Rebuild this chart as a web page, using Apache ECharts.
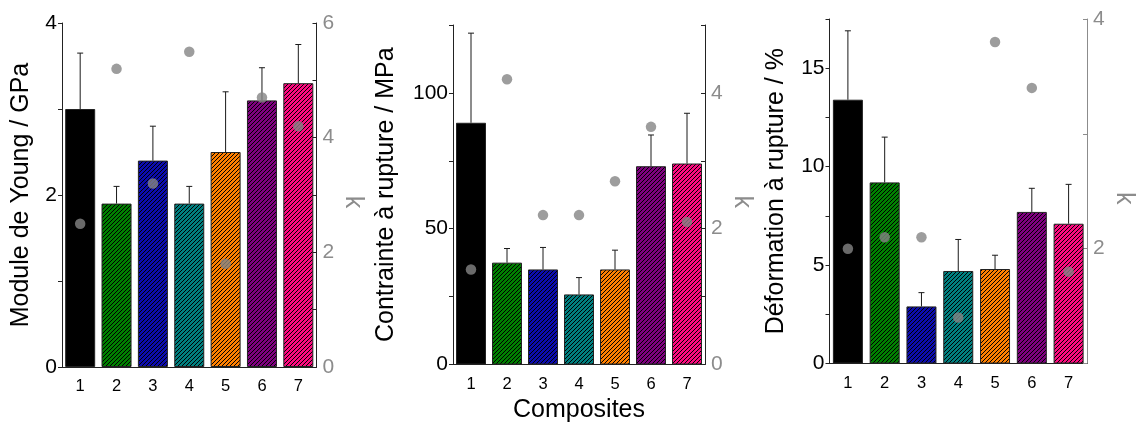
<!DOCTYPE html>
<html>
<head>
<meta charset="utf-8">
<script src="https://cdn.jsdelivr.net/npm/echarts@6/dist/echarts.min.js"></script>
<style>
html,body{margin:0;padding:0;background:#fff;}
#chart{width:1136px;height:424px;}
</style>
</head>
<body>
<div id="chart"></div>
<script>
// ---- data ----
const categories = ['1','2','3','4','5','6','7'];
const barColors = ['#000000','#008000','#0c0cb0','#008080','#ff8000','#800080','#ff0a80'];

const youngMean = [3.0, 1.9, 2.4, 1.9, 2.5, 3.1, 3.3];
const youngErr  = [0.65, 0.2, 0.4, 0.2, 0.7, 0.38, 0.45];
const youngK    = [2.5, 5.2, 3.2, 5.5, 1.8, 4.7, 4.2];

const stressMean = [89, 37.5, 35, 25.8, 35, 73, 74];
const stressErr  = [33, 5.2, 8.1, 6.2, 7.1, 11.5, 18.5];
const stressK    = [1.4, 4.2, 2.2, 2.2, 2.7, 3.5, 2.1];

const strainMean = [13.4, 9.2, 2.9, 4.7, 4.8, 7.7, 7.1];
const strainErr  = [3.5, 2.3, 0.7, 1.6, 0.7, 1.2, 2.0];
const strainK    = [2.0, 2.1, 2.1, 1.4, 3.8, 3.4, 1.8];

const youngTicks  = [0, 2, 4];
const youngKTicks = [0, 2, 4, 6];
const stressTicks = [0, 50, 100];
const stressKTicks = [0, 2, 4];
const strainTicks = [0, 5, 10, 15];
const strainKTicks = [2, 4];

// ---- styles ----
const FONT = 'Liberation Sans, Arial, sans-serif';

function hatch(color) {
  const s = 4;
  const c = document.createElement('canvas');
  c.width = s; c.height = s;
  const ctx = c.getContext('2d');
  ctx.fillStyle = color;
  ctx.fillRect(0, 0, s, s);
  ctx.strokeStyle = '#000';
  ctx.lineWidth = 1.0;
  ctx.beginPath();
  ctx.moveTo(-1, s + 1); ctx.lineTo(s + 1, -1);
  ctx.moveTo(-1, 1); ctx.lineTo(1, -1);
  ctx.moveTo(s - 1, s + 1); ctx.lineTo(s + 1, s - 1);
  ctx.stroke();
  return { image: c, repeat: 'repeat' };
}
const fills = barColors.map((c, i) => i === 0 ? c : hatch(c));

const grids = [
  { left: 62, top: 23, width: 254.5, height: 344, outerBoundsMode: 'none', containLabel: false },
  { left: 453, top: 25, width: 252, height: 339.5, outerBoundsMode: 'none', containLabel: false },
  { left: 829.5, top: 19, width: 257.5, height: 344.5, outerBoundsMode: 'none', containLabel: false }
];

function xAxes(gi, name) {
  return [
    {
      type: 'category', gridIndex: gi, data: categories,
      axisLine: { lineStyle: { color: '#222', width: 1 } },
      axisTick: { alignWithLabel: true, length: 4, lineStyle: { color: '#222' } },
      axisLabel: { color: '#000', fontSize: 16.5, fontFamily: FONT, margin: 11 },
      name: name || '', nameLocation: 'middle', nameGap: 33,
      nameTextStyle: { color: '#000', fontSize: 25, fontFamily: FONT }
    },
    {
      type: 'category', gridIndex: gi, data: categories, position: 'bottom',
      axisLine: { show: false },
      axisTick: { length: 4, lineStyle: { color: '#222' } },
      axisLabel: { show: false }
    }
  ];
}

function leftAxis(gi, max, interval, ticks, name, gap) {
  return {
    type: 'value', gridIndex: gi, position: 'left', min: 0, max: max, interval: interval,
    splitLine: { show: false },
    axisLine: { show: true, lineStyle: { color: '#222', width: 1 } },
    axisTick: { show: true, length: 4, lineStyle: { color: '#222' } },
    axisLabel: { color: '#000', fontSize: 21, fontFamily: FONT, margin: 5,
      formatter: v => ticks.includes(v) ? String(v) : '' },
    name: name, nameLocation: 'middle', nameGap: gap,
    nameTextStyle: { color: '#000', fontSize: 25, fontFamily: FONT }
  };
}

function rightAxis(gi, min, max, ticks, lineColor) {
  return {
    type: 'value', gridIndex: gi, position: 'right', min: min, max: max, interval: 1,
    splitLine: { show: false },
    axisLine: { show: true, lineStyle: { color: lineColor, width: 1 } },
    axisTick: { show: true, inside: true, length: 4, lineStyle: { color: lineColor } },
    axisLabel: { color: '#8c8c8c', fontSize: 21, fontFamily: FONT, margin: 6,
      formatter: v => ticks.includes(v) ? String(v) : '' },
    name: 'k', nameLocation: 'middle', nameGap: 24, nameRotate: -90,
    nameTextStyle: { color: '#8c8c8c', fontSize: 25, fontFamily: FONT, padding: [0, 0, 0, 14] }
  };
}

function panelSeries(gi, means, errs, ks) {
  const xi = gi * 2, yl = gi * 2, yr = gi * 2 + 1;
  return [
    {
      type: 'bar', xAxisIndex: xi, yAxisIndex: yl, barWidth: 30, z: 2,
      itemStyle: { borderColor: '#222', borderWidth: 1 },
      data: means.map((v, i) => ({ value: v, itemStyle: { color: fills[i] } }))
    },
    {
      type: 'custom', xAxisIndex: xi, yAxisIndex: yl, z: 3,
      data: means.map((v, i) => [i, v, v + errs[i]]),
      renderItem: function (params, api) {
        const p0 = api.coord([api.value(0), api.value(1)]);
        const p1 = api.coord([api.value(0), api.value(2)]);
        const hw = 3;
        const st = { stroke: '#1a1a1a', lineWidth: 1 };
        return {
          type: 'group', children: [
            { type: 'line', shape: { x1: p0[0], y1: p0[1], x2: p1[0], y2: p1[1] }, style: st },
            { type: 'line', shape: { x1: p1[0] - hw, y1: p1[1], x2: p1[0] + hw, y2: p1[1] }, style: st }
          ]
        };
      }
    },
    {
      type: 'scatter', xAxisIndex: xi, yAxisIndex: yr, z: 4,
      symbol: 'circle', symbolSize: 10.5,
      itemStyle: { color: '#858585' },
      data: ks
    }
  ];
}

const option = {
  animation: false,
  backgroundColor: '#fff',
  grid: grids,
  xAxis: [].concat(xAxes(0), xAxes(1, 'Composites'), xAxes(2)),
  yAxis: [
    leftAxis(0, 4, 1, youngTicks, 'Module de Young / GPa', 28),
    rightAxis(0, 0, 6, youngKTicks, '#222'),
    leftAxis(1, 125, 25, stressTicks, 'Contrainte à rupture / MPa', 54),
    rightAxis(1, 0, 5, stressKTicks, '#222'),
    leftAxis(2, 17.5, 2.5, strainTicks, 'Déformation à rupture / %', 41),
    rightAxis(2, 1, 4, strainKTicks, '#8c8c8c')
  ],
  series: [].concat(
    panelSeries(0, youngMean, youngErr, youngK),
    panelSeries(1, stressMean, stressErr, stressK),
    panelSeries(2, strainMean, strainErr, strainK)
  )
};

const chart = echarts.init(document.getElementById('chart'), null, { renderer: 'canvas' });
chart.setOption(option);
</script>
</body>
</html>
